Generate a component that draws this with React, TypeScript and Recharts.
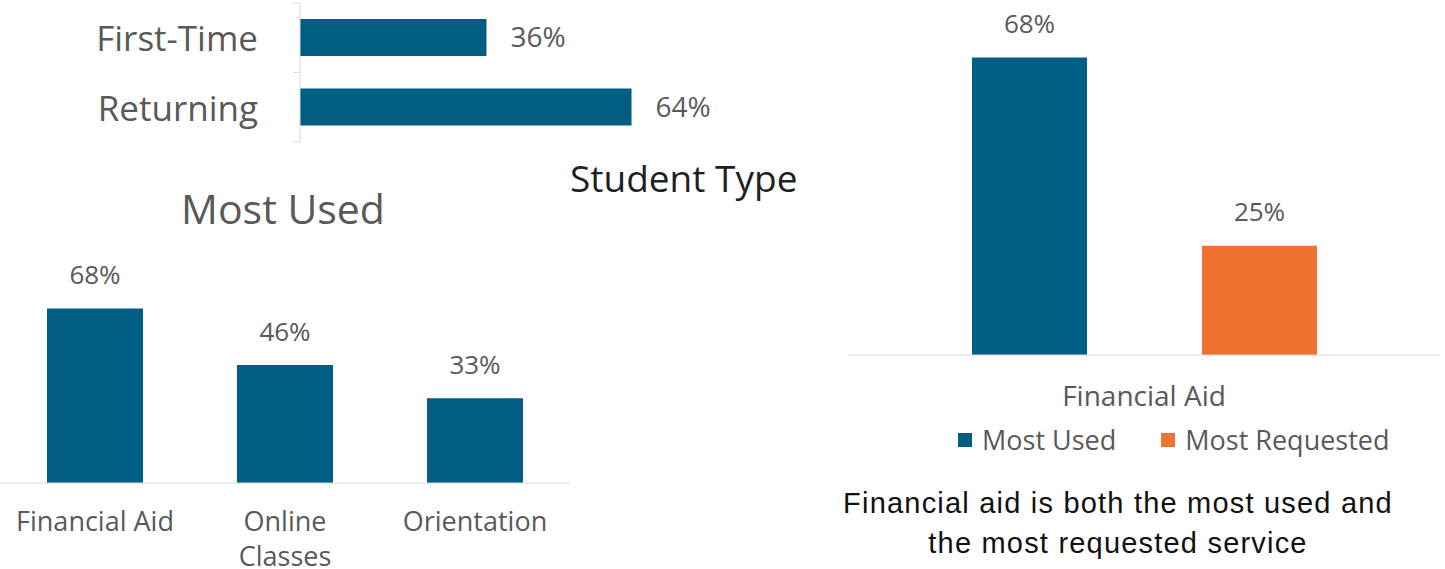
import { Bar, BarChart, LabelList, Legend, XAxis, YAxis } from "recharts";

const studentTypes = ["First-Time", "Returning"];
const studentShares = [36, 64];

const serviceNames = ["Financial Aid", "Online\nClasses", "Orientation"];
const serviceUsed = [68, 46, 33];

const compareNames = ["Financial Aid"];
const compareSeries = ["Most Used", "Most Requested"];
const compareUsed = [68];
const compareRequested = [25];

const BLUE = "#005E85";
const ORANGE = "#F07130";
const GRAY = "#595959";
const AXIS = "#D9D9D9";
const FONT = "'Open Sans', sans-serif";

const studentData = studentTypes.map((type, i) => ({ type, share: studentShares[i] }));
const serviceData = serviceNames.map((name, i) => ({ name, used: serviceUsed[i] }));
const compareData = compareNames.map((name, i) => ({
  name,
  used: compareUsed[i],
  requested: compareRequested[i],
}));

const pct = (v: any) => `${v}%`;

const StudentTick = (props: any) => {
  const { x, y, payload, index } = props;
  const half = payload?.offset ?? 34.75;
  const axisX = x + 42;
  return (
    <g>
      <text x={x} y={y} textAnchor="end" dominantBaseline="central" fill={GRAY} fontSize={35} fontFamily={FONT}>
        {payload.value}
      </text>
      <line x1={axisX - 7} x2={axisX} y1={y - half} y2={y - half} stroke={AXIS} />
      {index === studentTypes.length - 1 && (
        <line x1={axisX - 7} x2={axisX} y1={y + half} y2={y + half} stroke={AXIS} />
      )}
    </g>
  );
};

const ServiceTick = (props: any) => {
  const { x, y, payload } = props;
  const lines = String(payload.value).split("\n");
  return (
    <g>
      {lines.map((line, i) => (
        <text key={i} x={x} y={y + 37 + i * 35} textAnchor="middle" dominantBaseline="central" fill={GRAY} fontSize={27} fontFamily={FONT}>
          {line}
        </text>
      ))}
    </g>
  );
};

const CompareTick = (props: any) => {
  const { x, y, payload } = props;
  return (
    <text x={x} y={y + 40} textAnchor="middle" dominantBaseline="central" fill={GRAY} fontSize={28} fontFamily={FONT}>
      {payload.value}
    </text>
  );
};

const CompareLegend = (props: any) => {
  const items = [...(props.payload || [])].sort(
    (a: any, b: any) => compareSeries.indexOf(a.value) - compareSeries.indexOf(b.value)
  );
  return (
    <div style={{ height: 30, display: "flex", alignItems: "center", paddingLeft: 110, fontFamily: FONT, fontSize: 27, color: GRAY }}>
      {items.map((item: any) => (
        <div key={item.value} style={{ display: "flex", alignItems: "center", marginRight: 45 }}>
          <span style={{ width: 14, height: 14, background: item.color, display: "inline-block", marginRight: 10 }} />
          <span style={{ lineHeight: "30px", whiteSpace: "nowrap" }}>{item.value}</span>
        </div>
      ))}
    </div>
  );
};

export default function App() {
  return (
    <div style={{ position: "absolute", left: 0, top: 0, width: 1445, height: 569, background: "#fff", overflow: "hidden" }}>
      <div style={{ position: "absolute", left: 0, top: 0 }}>
        <BarChart layout="vertical" width={830} height={150} data={studentData} margin={{ top: 3, right: 12, bottom: 8, left: 0 }}>
          <XAxis type="number" domain={[0, 100]} hide />
          <YAxis
            type="category"
            dataKey="type"
            width={300}
            axisLine={{ stroke: AXIS }}
            tickLine={false}
            tickSize={0}
            tickMargin={42}
            tick={<StudentTick />}
          />
          <Bar dataKey="share" fill={BLUE} barSize={37} isAnimationActive={false}>
            <LabelList dataKey="share" position="right" offset={24} formatter={pct} fill={GRAY} fontSize={28} fontFamily={FONT} />
          </Bar>
        </BarChart>
      </div>
      <div style={{ position: "absolute", left: 570, top: 156, fontFamily: FONT, fontSize: 37, lineHeight: "44px", color: "#1f1f1f" }}>
        Student Type
      </div>

      <div style={{ position: "absolute", left: 0, top: 183, width: 566, textAlign: "center", fontFamily: FONT, fontSize: 41, lineHeight: "50px", color: GRAY }}>
        Most Used
      </div>
      <div style={{ position: "absolute", left: 0, top: 230 }}>
        <BarChart width={575} height={339} data={serviceData} margin={{ top: 22, right: 5, bottom: 0, left: 0 }}>
          <XAxis
            dataKey="name"
            height={86}
            interval={0}
            axisLine={{ stroke: AXIS }}
            tickLine={false}
            tickSize={0}
            tickMargin={0}
            tick={<ServiceTick />}
          />
          <YAxis hide domain={[0, 90]} />
          <Bar dataKey="used" fill={BLUE} barSize={96} isAnimationActive={false}>
            <LabelList dataKey="used" position="top" offset={24} formatter={pct} fill={GRAY} fontSize={26} fontFamily={FONT} />
          </Bar>
        </BarChart>
      </div>

      <div style={{ position: "absolute", left: 830, top: 0 }}>
        <BarChart width={615} height={470} data={compareData} margin={{ top: 5, right: 5, bottom: 15, left: 18 }} barGap={115}>
          <XAxis
            dataKey="name"
            height={70}
            axisLine={{ stroke: AXIS }}
            tickLine={false}
            tickSize={0}
            tickMargin={0}
            tick={<CompareTick />}
          />
          <YAxis hide domain={[0, 80]} />
          <Legend verticalAlign="bottom" content={<CompareLegend />} />
          <Bar dataKey="used" name={compareSeries[0]} fill={BLUE} barSize={115} isAnimationActive={false}>
            <LabelList dataKey="used" position="top" offset={25} formatter={pct} fill={GRAY} fontSize={26} fontFamily={FONT} />
          </Bar>
          <Bar dataKey="requested" name={compareSeries[1]} fill={ORANGE} barSize={115} isAnimationActive={false}>
            <LabelList dataKey="requested" position="top" offset={25} formatter={pct} fill={GRAY} fontSize={26} fontFamily={FONT} />
          </Bar>
        </BarChart>
      </div>
      <div
        style={{
          position: "absolute",
          left: 800,
          top: 483,
          width: 636,
          textAlign: "center",
          fontFamily: "'Liberation Sans', Arial, sans-serif",
          fontSize: 29,
          letterSpacing: 1.2,
          lineHeight: "40px",
          color: "#111",
        }}
      >
        Financial aid is both the most used and
        <br />
        the most requested service
      </div>
    </div>
  );
}
